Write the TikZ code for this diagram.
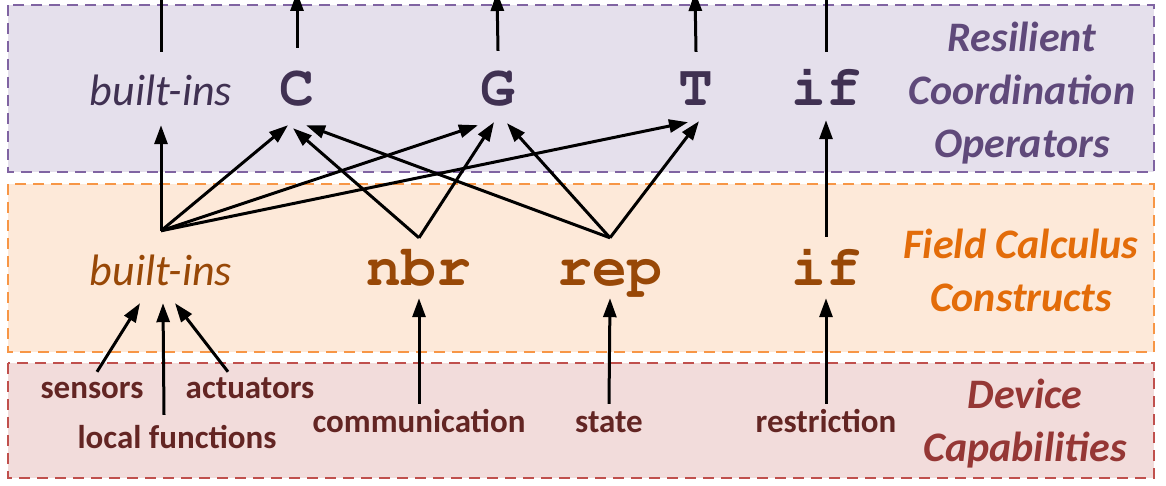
\documentclass[tikz,border=0pt]{standalone}
\usepackage[T1]{fontenc}
\usepackage{fontspec}
\setmainfont{Carlito}
\usetikzlibrary{arrows.meta}

\definecolor{opfill}{HTML}{E5E0EC}
\definecolor{opline}{HTML}{8064A2}
\definecolor{opitem}{HTML}{403152}
\definecolor{optitle}{HTML}{5F497A}
\definecolor{fcfill}{HTML}{FDE9D9}
\definecolor{fcline}{HTML}{F79646}
\definecolor{fcitem}{HTML}{984807}
\definecolor{fctitle}{HTML}{E36C09}
\definecolor{dvfill}{HTML}{F2DCDB}
\definecolor{dvline}{HTML}{C0504D}
\definecolor{dvitem}{HTML}{632523}
\definecolor{dvtitle}{HTML}{953735}

\newcommand{\courierbold}{\fontencoding{T1}\fontfamily{pcr}\fontseries{b}\selectfont}

\tikzset{
    layer/.style={line width=2pt, dash pattern=on 11pt off 7pt},
    flow/.style={line width=3pt, -{Triangle[length=19pt,width=13pt]}},
    item/.style={inner sep=0pt, anchor=base},
    builtin/.style={item, font=\fontsize{44}{50}\selectfont\itshape},
    code/.style={item, font=\fontsize{58}{60}\selectfont\courierbold},
    capab/.style={item, font=\fontsize{33}{40}\selectfont\bfseries, text=dvitem},
    title/.style={align=center, font=\fontsize{42}{53}\selectfont\bfseries\itshape}
}

\begin{document}
\begin{tikzpicture}[x=1pt, y=-1pt]
    \useasboundingbox (0,0) rectangle (1166,486);

    % layers
    \filldraw[layer, draw=opline, fill=opfill] (8,5) rectangle (1154,172);
    \filldraw[layer, draw=fcline, fill=fcfill] (8,184) rectangle (1154,352);
    \filldraw[layer, draw=dvline, fill=dvfill] (8,363) rectangle (1154,478);

    \node[title, text=optitle] (optitle) at (1022,93) {Resilient\\Coordination\\Operators};
    \node[title, text=fctitle] (fctitle) at (1021,270) {Field Calculus\\Constructs};
    \node[title, text=dvtitle] (dvtitle) at (1025,424) {Device\\Capabilities};

    % resilient coordination operators
    \node[builtin, text=opitem, text height=54pt, text depth=19pt] (bitop) at (161,106) {built-ins};
    \node[code, text=opitem, text height=58pt, text depth=19pt] (C) at (297,106) {C};
    \node[code, text=opitem, text height=55pt, text depth=19pt] (G) at (498,106) {G};
    \node[code, text=opitem, text height=54pt, text depth=19pt] (T) at (696,106) {T};
    \node[code, text=opitem, text height=54pt, text depth=19pt] (iftop) at (826,106) {if};

    \coordinate (bitop-up) at (161,-25);
    \coordinate (C-up) at (297,-8);
    \coordinate (G-up) at (497,-8);
    \coordinate (T-up) at (695,-8);
    \coordinate (iftop-up) at (826,-25);

    % field calculus constructs
    \node[builtin, text=fcitem, text height=54pt, text depth=18pt] (bimid) at (161,285) {built-ins};
    \node[code, text=fcitem, text height=47pt, text depth=13pt] (nbr) at (419,285) {nbr};
    \node[code, text=fcitem, text height=47pt, text depth=13pt] (rep) at (610,285) {rep};
    \node[code, text=fcitem, text height=48pt, text depth=13pt] (ifmid) at (826,285) {if};

    % device capabilities
    \node[capab, text height=26pt] (sensors) at (92,398) {sensors};
    \node[capab, text height=26pt] (actuators) at (250,398) {actuators};
    \node[capab, text height=33pt] (localfun) at (177,448) {local functions};
    \node[capab, text height=28pt] (comm) at (419,432) {communication};
    \node[capab, text height=28pt] (state) at (609,432) {state};
    \node[capab, text height=28pt] (restr) at (826,432) {restriction};

    % up and out
    \foreach \n in {bitop, C, G, T, iftop}
        \draw[flow] (\n.north) -- (\n-up);

    % constructs to operators
    \draw[flow] (bimid.north) -- (bitop.south);
    \draw[flow] (bimid.north) -- ([xshift=-9pt]C.south);
    \draw[flow] (bimid.north) -- ([xshift=-20pt]G.south);
    \draw[flow] (bimid.north) -- ([xshift=-8pt,yshift=3pt]T.south);
    \draw[flow] (nbr.north) -- ([xshift=-4pt,yshift=-3pt]C.south);
    \draw[flow] (nbr.north) -- ([xshift=-4pt,yshift=3pt]G.south);
    \draw[flow] (rep.north) -- ([xshift=9pt]C.south);
    \draw[flow] (rep.north) -- ([xshift=9pt,yshift=2pt]G.south);
    \draw[flow] (rep.north) -- ([xshift=3pt,yshift=4pt]T.south);
    \draw[flow] (ifmid.north) -- ([yshift=5pt]iftop.south);

    % capabilities to constructs
    \draw[flow] ([xshift=5pt]sensors.north) -- ([xshift=-21pt]bimid.south);
    \draw[flow] ([xshift=-13pt]localfun.north) -- ([xshift=2pt]bimid.south);
    \draw[flow] ([xshift=-22pt]actuators.north) -- ([xshift=14pt]bimid.south);
    \draw[flow] (comm.north) -- (nbr.south);
    \draw[flow] (state.north) -- (rep.south);
    \draw[flow] (restr.north) -- (ifmid.south);
\end{tikzpicture}
\end{document}
